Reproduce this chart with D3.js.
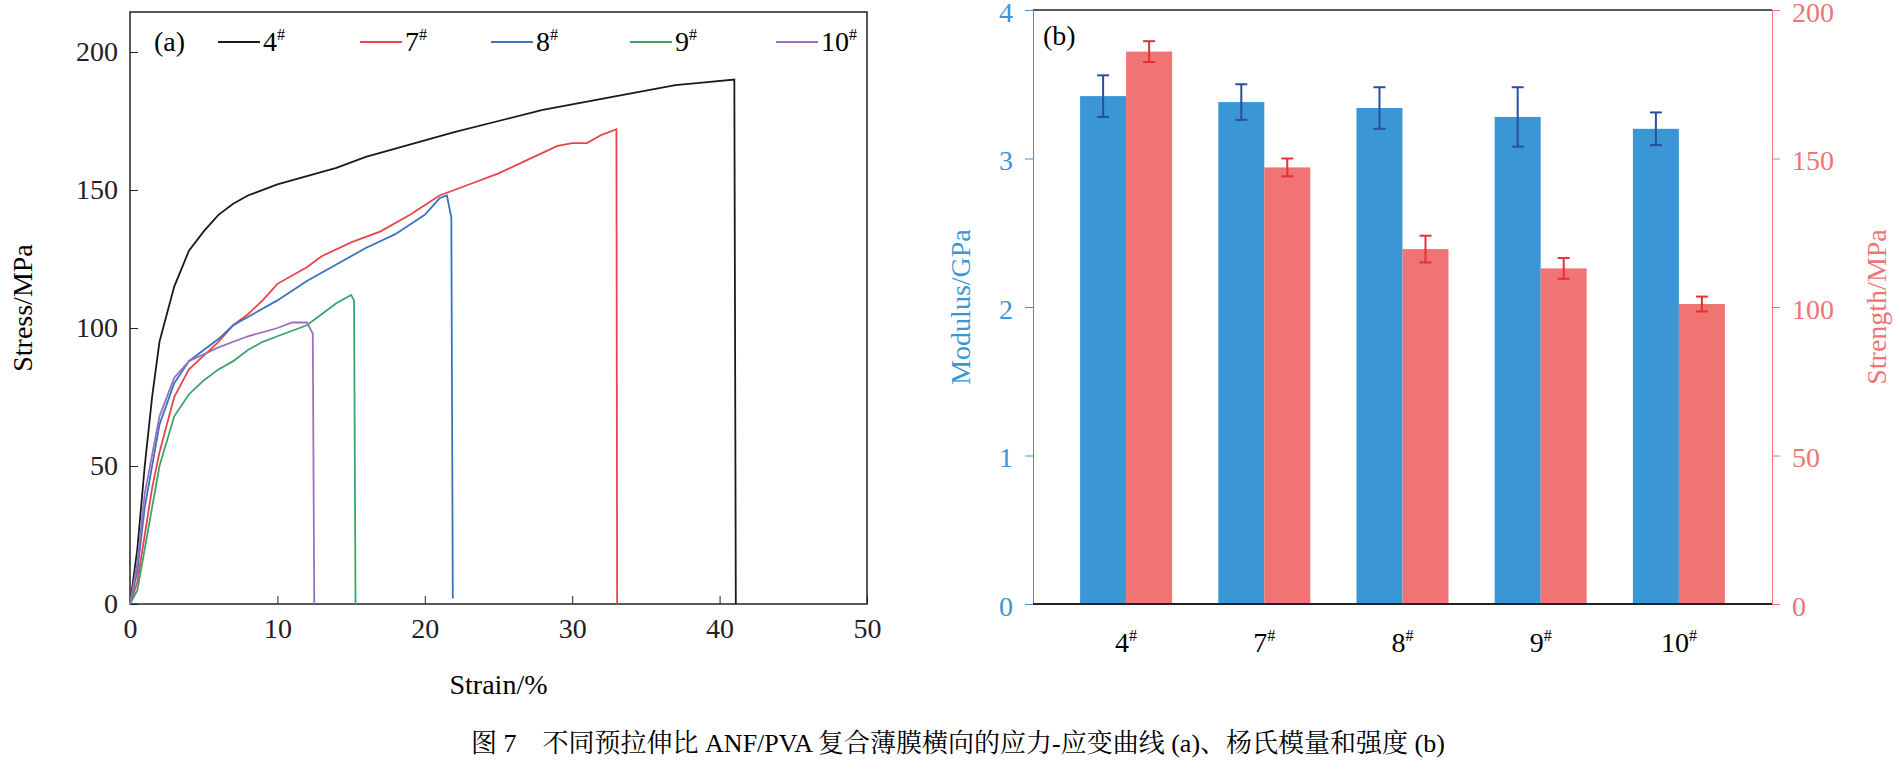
<!DOCTYPE html>
<html>
<head>
<meta charset="utf-8">
<script src="https://cdn.jsdelivr.net/npm/d3@7"></script>
<style>
  body { margin: 0; background: #fff; }
  svg text { font-family: "Liberation Serif", "Times New Roman", Times, "DejaVu Serif", "Noto Serif CJK SC", "Noto Sans CJK SC", serif !important; }
</style>
</head>
<body>
<svg id="chart" width="1900" height="778"></svg>
<script>
// stress-strain curves (strain %, stress MPa)
const curve4 = [[0,0],[0.5,20],[1,50],[1.5,75],[2,95],[3,115],[4,128],[5,135],[6,141],[7,145],[8,148],[10,152],[12,155],[14,158],[16,162],[18,165],[20,168],[22,171],[25,175],[28,179],[30,181],[33,184],[35,186],[37,188],[39,189],[41,190],[41.1,0]];
const curve7 = [[0,0],[0.5,8],[1,25],[1.5,42],[2,55],[3,75],[4,85],[5,90],[6,95],[7,101],[8,105],[9,110],[10,116],[12,122],[13,126],[15,131],[17,135],[19,141],[21,148],[23,152],[25,156],[27,161],[29,166],[30,167],[31,167],[32,170],[33,172],[33.05,0]];
const curve8 = [[0,0],[0.5,12],[1,35],[2,65],[3,80],[4,88],[5,92],[6,96],[7,101],[8,104],[10,110],[12,117],[14,123],[16,129],[18,134],[20,141],[21,147],[21.5,148],[21.8,140],[21.9,2]];
const curve9 = [[0,0],[0.5,5],[1,20],[2,50],[3,68],[4,76],[5,81],[6,85],[7,88],[8,92],[9,95],[10,97],[12,101],[13,105],[14,109],[15,112],[15.2,110],[15.3,0]];
const curve10 = [[0,0],[0.5,15],[1,40],[2,68],[3,82],[4,88],[6,93],[8,97],[10,100],[11,102],[12,102],[12.4,98],[12.5,0]];
const curveNames = ["4#", "7#", "8#", "9#", "10#"];
const curveColors = ["#1a1a1a", "#e8454a", "#3a72c0", "#3aa56a", "#9a70c0"];

// bar chart values
const samples = ["4", "7", "8", "9", "10"];
const modulus = [3.42, 3.38, 3.34, 3.28, 3.20];
const modulusErr = [0.14, 0.12, 0.14, 0.20, 0.11];
const strength = [186, 147, 119.5, 113, 101];
const strengthErr = [3.5, 3, 4.5, 3.5, 2.5];

const FS = 28;
const svg = d3.select("#chart");

// ---------- panel (a) ----------
const ax = {l: 130, r: 867, t: 12, b: 604};
const x = d3.scaleLinear().domain([0, 50]).range([ax.l, ax.r]);
const y = d3.scaleLinear().domain([0, 200]).range([ax.b, 52]);

svg.append("rect").attr("x", ax.l).attr("y", ax.t).attr("width", ax.r - ax.l).attr("height", ax.b - ax.t)
  .attr("fill", "none").attr("stroke", "#222").attr("stroke-width", 1.5);

const gx = svg.append("g").attr("transform", `translate(0,${ax.b})`)
  .call(d3.axisBottom(x).ticks(5).tickSizeInner(-8).tickSizeOuter(0).tickPadding(14));
const gy = svg.append("g").attr("transform", `translate(${ax.l},0)`)
  .call(d3.axisLeft(y).ticks(4).tickSizeInner(-8).tickSizeOuter(0).tickPadding(12));
[gx, gy].forEach(g => {
  g.select(".domain").remove();
  g.selectAll("line").attr("stroke", "#222");
  g.selectAll("text").attr("font-size", FS).attr("fill", "#222");
});

svg.append("text").attr("x", (ax.l + ax.r) / 2).attr("y", 694).attr("text-anchor", "middle")
  .attr("font-size", FS).text("Strain/%");
svg.append("text").attr("transform", `translate(32,${(ax.t + ax.b) / 2}) rotate(-90)`)
  .attr("text-anchor", "middle").attr("font-size", FS).text("Stress/MPa");

const line = d3.line().x(d => x(d[0])).y(d => y(d[1]));
[curve4, curve7, curve8, curve9, curve10].forEach((c, i) => {
  svg.append("path").datum(c).attr("d", line).attr("fill", "none")
    .attr("stroke", curveColors[i]).attr("stroke-width", 1.8);
});

// legend
svg.append("text").attr("x", 154).attr("y", 51).attr("font-size", FS).text("(a)");
const legendX = [218, 360, 491, 630, 776];
curveNames.forEach((n, i) => {
  const lx = legendX[i];
  svg.append("line").attr("x1", lx).attr("x2", lx + 42).attr("y1", 42).attr("y2", 42)
    .attr("stroke", curveColors[i]).attr("stroke-width", 1.8);
  const t = svg.append("text").attr("x", lx + 45).attr("y", 51).attr("font-size", FS);
  t.append("tspan").text(n.replace("#", ""));
  t.append("tspan").attr("font-size", 16).attr("dy", -11).text("#");
});

// ---------- panel (b) ----------
const bx = {l: 1033, r: 1772, t: 10, b: 604};
const band = d3.scaleBand().domain(samples).range([bx.l + 24, bx.r - 24]);
const yl = d3.scaleLinear().domain([0, 4]).range([bx.b, bx.t]);
const yr = d3.scaleLinear().domain([0, 200]).range([bx.b, bx.t]);
const barW = 46;
const blue = "#3a96d4", red = "#f07474";

svg.append("line").attr("x1", bx.l).attr("x2", bx.r).attr("y1", bx.t).attr("y2", bx.t)
  .attr("stroke", "#222").attr("stroke-width", 1.5);

samples.forEach((s, i) => {
  const c = band(s) + band.bandwidth() / 2;
  svg.append("rect").attr("x", c - barW).attr("y", yl(modulus[i])).attr("width", barW)
    .attr("height", bx.b - yl(modulus[i])).attr("fill", blue);
  svg.append("rect").attr("x", c).attr("y", yr(strength[i])).attr("width", barW)
    .attr("height", bx.b - yr(strength[i])).attr("fill", red);
  // error bars
  const eb = (cx, y1, y2, col) => {
    svg.append("line").attr("x1", cx).attr("x2", cx).attr("y1", y1).attr("y2", y2).attr("stroke", col).attr("stroke-width", 2);
    [y1, y2].forEach(yy => svg.append("line").attr("x1", cx - 6).attr("x2", cx + 6).attr("y1", yy).attr("y2", yy)
      .attr("stroke", col).attr("stroke-width", 2));
  };
  eb(c - barW / 2, yl(modulus[i] - modulusErr[i]), yl(modulus[i] + modulusErr[i]), "#2a4ea0");
  eb(c + barW / 2, yr(strength[i] - strengthErr[i]), yr(strength[i] + strengthErr[i]), "#e83030");
  const t = svg.append("text").attr("x", c).attr("y", 652).attr("text-anchor", "middle").attr("font-size", FS);
  t.append("tspan").text(s);
  t.append("tspan").attr("font-size", 16).attr("dy", -11).text("#");
});

const gl = svg.append("g").attr("transform", `translate(${bx.l},0)`)
  .call(d3.axisLeft(yl).ticks(4).tickSize(8).tickPadding(12));
gl.selectAll("line, path").attr("stroke", blue);
gl.selectAll("text").attr("fill", blue).attr("font-size", FS).attr("dy", "0.4em");
const gr = svg.append("g").attr("transform", `translate(${bx.r},0)`)
  .call(d3.axisRight(yr).ticks(4).tickSize(8).tickPadding(12));
gr.selectAll("line, path").attr("stroke", red);
gr.selectAll("text").attr("fill", red).attr("font-size", FS).attr("dy", "0.4em");

svg.append("line").attr("x1", bx.l).attr("x2", bx.r).attr("y1", bx.b).attr("y2", bx.b)
  .attr("stroke", "#222").attr("stroke-width", 2);
svg.append("text").attr("x", 1043).attr("y", 45).attr("font-size", FS).text("(b)");

svg.append("text").attr("transform", `translate(970,${(bx.t + bx.b) / 2}) rotate(-90)`)
  .attr("text-anchor", "middle").attr("font-size", FS).attr("fill", blue).text("Modulus/GPa");
svg.append("text").attr("transform", `translate(1886,${(bx.t + bx.b) / 2}) rotate(-90)`)
  .attr("text-anchor", "middle").attr("font-size", FS).attr("fill", red).text("Strength/MPa");

// caption
svg.append("text").attr("x", 958).attr("y", 752).attr("text-anchor", "middle").attr("font-size", 26)
  .attr("xml:space", "preserve")
  .text("图 7    不同预拉伸比 ANF/PVA 复合薄膜横向的应力-应变曲线 (a)、杨氏模量和强度 (b)");
</script>
</body>
</html>
